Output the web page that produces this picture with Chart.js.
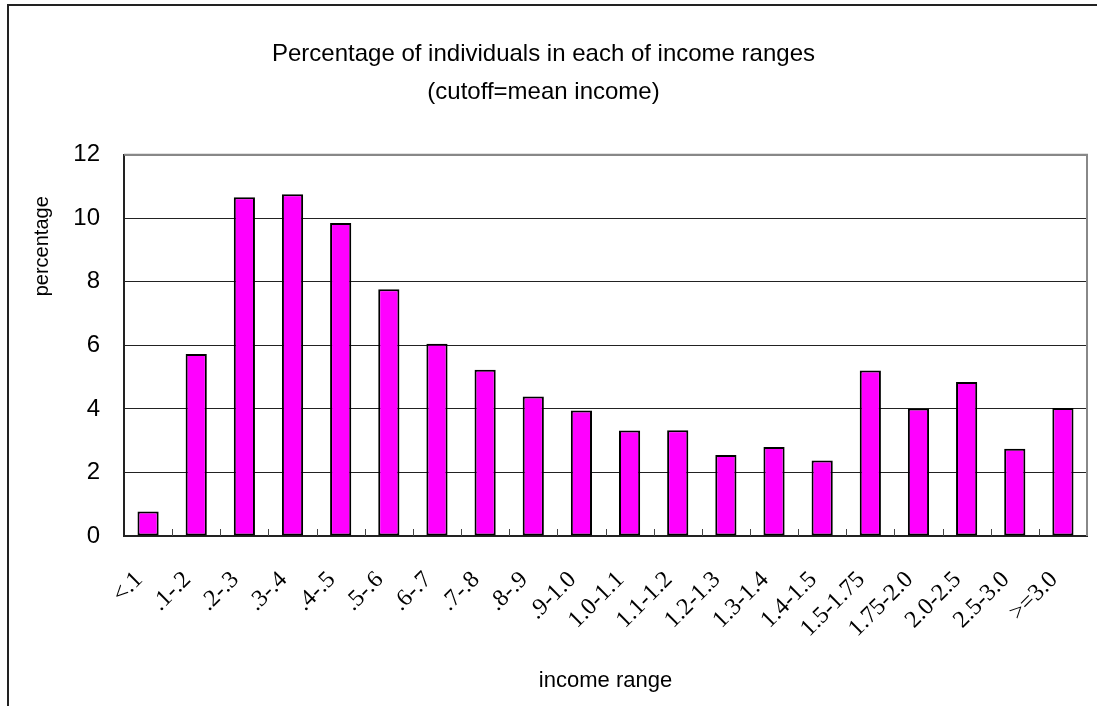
<!DOCTYPE html>
<html>
<head>
<meta charset="utf-8">
<script src="https://cdn.jsdelivr.net/npm/chart.js@4/dist/chart.umd.min.js"></script>
<style>
  html, body { margin: 0; padding: 0; background: #fff; }
  canvas { display: block; }
</style>
</head>
<body>
<canvas id="incomeChart" width="1097" height="706"></canvas>
<script>
// Income range categories (cutoff = mean income)
const ranges = ["<.1", ".1-.2", ".2-.3", ".3-.4", ".4-.5", ".5-.6", ".6-.7", ".7-.8", ".8-.9", ".9-1.0",
    "1.0-1.1", "1.1-1.2", "1.2-1.3", "1.3-1.4", "1.4-1.5", "1.5-1.75", "1.75-2.0", "2.0-2.5", "2.5-3.0", ">=3.0"];

// Percentage of individuals in each range
const percentages = [0.77, 5.73, 10.66, 10.76, 9.85, 7.77, 6.05, 5.23, 4.39, 3.95,
    3.32, 3.33, 2.55, 2.80, 2.38, 5.21, 4.01, 4.85, 2.75, 4.03];

const yTicks = [0, 2, 4, 6, 8, 10, 12];

const titleLines = ["Percentage of individuals in each of income ranges", "(cutoff=mean income)"];
const yTitle = "percentage";
const xTitle = "income range";

// Outer frame, plot border and small inside ticks between bars
const framePlugin = {
    id: "frame",
    beforeDraw(chart) {
        const c = chart.ctx;
        c.save();
        c.fillStyle = "#fff";
        c.fillRect(0, 0, chart.width, chart.height);
        c.strokeStyle = "#222";
        c.lineWidth = 2;
        c.beginPath();
        c.moveTo(8, chart.height);
        c.lineTo(8, 5);
        c.lineTo(chart.width, 5);
        c.stroke();
        c.restore();
    },
    beforeDatasetsDraw(chart) {
        const c = chart.ctx;
        const a = chart.chartArea;
        const x = chart.scales.x;
        c.save();
        c.strokeStyle = "#888";
        c.lineWidth = 2;
        c.beginPath();
        c.moveTo(a.left, a.top);
        c.lineTo(a.right, a.top);
        c.lineTo(a.right, a.bottom);
        c.stroke();
        c.strokeStyle = "#444";
        c.lineWidth = 1;
        c.beginPath();
        for (let i = 1; i < ranges.length; i++) {
            const px = Math.round((x.getPixelForValue(i - 1) + x.getPixelForValue(i)) / 2) + 0.5;
            c.moveTo(px, a.bottom);
            c.lineTo(px, a.bottom - 7);
        }
        c.stroke();
        // y axis title, sits above the middle like the original
        c.translate(42, a.top + (a.bottom - a.top) * 0.24);
        c.rotate(-Math.PI / 2);
        c.fillStyle = "#000";
        c.font = "20px 'Liberation Sans', Arial, sans-serif";
        c.textAlign = "center";
        c.textBaseline = "middle";
        c.fillText(yTitle, 0, 0);
        c.restore();
    }
};

const ctx = document.getElementById("incomeChart").getContext("2d");

new Chart(ctx, {
    type: "bar",
    data: {
        labels: ranges,
        datasets: [{
            label: "percentage",
            data: percentages,
            backgroundColor: "#ff00ff",
            borderColor: "#000",
            borderWidth: 2,
            borderSkipped: false,
            barPercentage: 0.44,
            categoryPercentage: 1.0
        }]
    },
    options: {
        responsive: false,
        animation: false,
        devicePixelRatio: 1,
        layout: { padding: { left: 0, right: 10, top: 0, bottom: 0 } },
        plugins: {
            legend: { display: false },
            tooltip: { enabled: false },
            title: {
                display: true,
                text: titleLines,
                color: "#000",
                font: { family: "'Liberation Sans', Arial, sans-serif", size: 24, weight: "normal", lineHeight: 1.6 },
                padding: { top: 35, bottom: 43 }
            }
        },
        scales: {
            x: {
                offset: true,
                grid: { display: false, drawTicks: false },
                border: { display: true, color: "#222", width: 2 },
                ticks: {
                    color: "#000",
                    font: { family: "'Liberation Serif', 'Times New Roman', serif", size: 24 },
                    maxRotation: 45,
                    minRotation: 45,
                    autoSkip: false,
                    padding: 30,
                    labelOffset: -9
                },
                title: {
                    display: true,
                    text: xTitle,
                    color: "#000",
                    font: { family: "'Liberation Sans', Arial, sans-serif", size: 22, lineHeight: 1.2 },
                    padding: { top: 4, bottom: 12 }
                },
                afterFit(scale) {
                    scale.height = 170;
                    scale.paddingLeft = 0;
                    scale.paddingRight = 0;
                }
            },
            y: {
                min: 0,
                max: 12,
                afterBuildTicks(scale) { scale.ticks = yTicks.map(v => ({ value: v })); },
                grid: {
                    drawTicks: false,
                    color: ctx => ctx.tick && ctx.tick.value === 12 ? "#888" : "#222",
                    lineWidth: ctx => ctx.tick && ctx.tick.value === 12 ? 2 : 1
                },
                border: { display: true, color: "#222", width: 2 },
                ticks: {
                    color: "#000",
                    font: { family: "'Liberation Sans', Arial, sans-serif", size: 24 },
                    padding: 24
                },
                afterFit(scale) { scale.width = 124; }
            }
        }
    },
    plugins: [framePlugin]
});
</script>
</body>
</html>
